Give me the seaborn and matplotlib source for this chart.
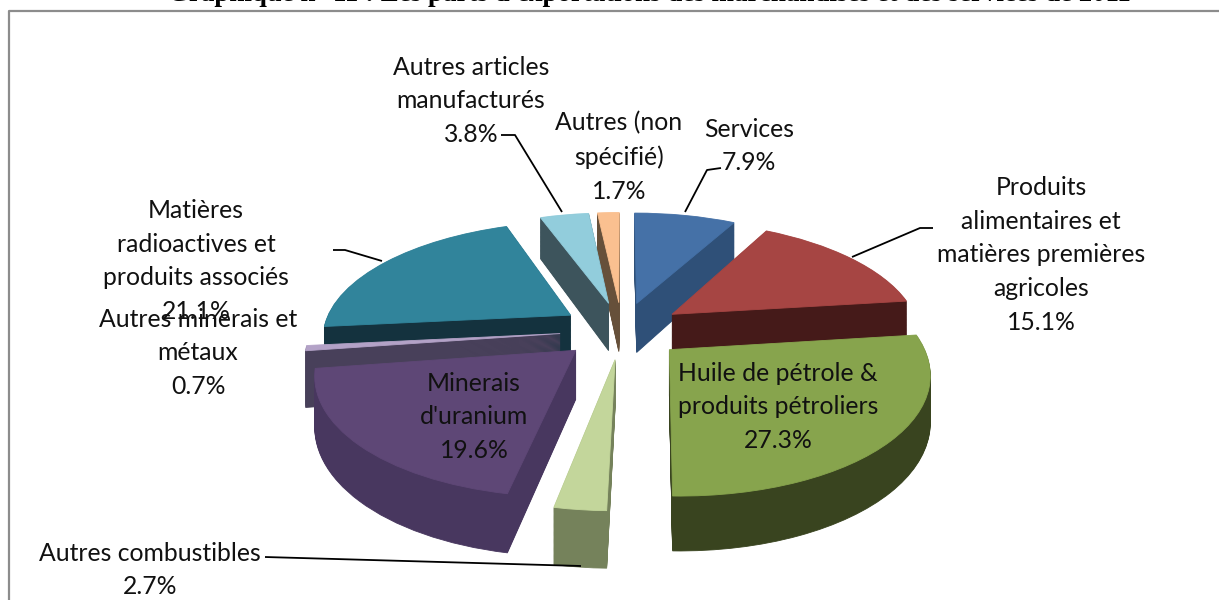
import numpy as np
import matplotlib
matplotlib.use("Agg")
import matplotlib.pyplot as plt
from matplotlib.transforms import Transform
import seaborn as sns

# values, clockwise from 12 o'clock
categories = [
    "Services",
    "Produits\nalimentaires et\nmatières premières\nagricoles",
    "Huile de pétrole &\nproduits pétroliers",
    "Autres combustibles",
    "Minerais\nd'uranium",
    "Autres minerais et\nmétaux",
    "Matières\nradioactives et\nproduits associés",
    "Autres articles\nmanufacturés",
    "Autres (non\nspécifié)",
]
shares = [7.9, 15.1, 27.3, 2.7, 19.6, 0.7, 21.1, 3.8, 1.7]
top_colors = ["#4571a7", "#a64543", "#87a44d", "#c3d69b", "#5e4776",
              "#b3a2c7", "#31849b", "#92cddc", "#fac090"]
side_colors = ["#2f5078", "#451a19", "#39441f", "#75825b", "#48375f",
               "#48405a", "#14323e", "#3d545c", "#66503a"]
title = "Graphique n° 11 : Les parts d'exportations des marchandises et des services de 2011"

# back to front
stack_order = [2, 4, 8, 7, 6, 5, 3, 1, 1.5]
# the slices are not all equally thick in the original
thickness = [1.16, 1.0, 1.0, 1.03, 1.08, 1.25, 1.0, 1.12, 1.16]

label_pos = [(749, 146), (1041, 255), (778, 407), (150, 570), (474, 417),
             (198, 353), (196, 261), (471, 101), (619, 157)]

leaders = [
    ([721, 707, 685], [168, 170, 212]),
    ([933, 920, 852], [228, 228, 257]),
    ([265, 581], [557, 566]),
    ([333, 345, 382], [250, 250, 261]),
    ([501, 515, 562], [135, 135, 212]),
]

CX, CY = 622, 330
RX, RY = 248, 114
TILT = 0.17
DEPTH = 44
N_LAYERS = 50


class PieProjection(Transform):
    """Flat pie coordinates to screen pixels, with perspective."""
    input_dims = 2
    output_dims = 2
    is_separable = False

    def __init__(self, z=0.0):
        super().__init__()
        self.z = z

    def transform_non_affine(self, values):
        values = np.asarray(values, dtype=float)
        u, v = values[:, 0], values[:, 1]
        w = 1 + TILT * v
        return np.column_stack((CX + RX * u / w, CY + (-RY * v + DEPTH * self.z) / w))


def draw_layer(ax, z, colors, lift):
    wedges, _ = ax.pie(shares, explode=[0.25] * len(shares), startangle=90,
                       counterclock=False, colors=colors, normalize=True,
                       wedgeprops=dict(linewidth=0.6, edgecolor="none"))
    for wedge, rank, col, thick in zip(wedges, stack_order, colors, thickness):
        wedge.set_transform(PieProjection(z * thick) + ax.transData)
        wedge.set_edgecolor(col)
        wedge.set_zorder(rank + lift)
        wedge.set_clip_on(False)


sns.set_theme(style="white")
plt.rcParams["font.family"] = ["Lato", "DejaVu Sans"]

fig, ax = plt.subplots(figsize=(12.19, 6), dpi=100)
ax.set_position([0, 0, 1, 1])

for i, z in enumerate(np.linspace(1, 0.02, N_LAYERS)):
    draw_layer(ax, z, sns.color_palette(side_colors), 0.9 * i / N_LAYERS)
draw_layer(ax, 0, sns.color_palette(top_colors), 0.95)

ax.set_xlim(0, 1219)
ax.set_ylim(600, 0)
ax.set_aspect("auto")
ax.axis("off")

# chart frame: only top and left are inside the crop
ax.plot([9, 9, 1219], [600, 11, 11], color="#8c8c8c", lw=1.6, zorder=1, clip_on=False)

for xs, ys in leaders:
    ax.plot(xs, ys, color="black", lw=1.3, zorder=15, solid_capstyle="butt")

for name, share, (x, y) in zip(categories, shares, label_pos):
    ax.text(x, y, f"{name}\n{share:.1f}%", ha="center", va="center",
            fontsize=17.8, color="#111111", linespacing=1.57, zorder=20)

ax.text(649, 1, title, ha="center", va="baseline", fontsize=19.4, fontweight="bold",
        family="Liberation Serif", color="black", zorder=20)

fig.savefig("out.png", dpi=100)
